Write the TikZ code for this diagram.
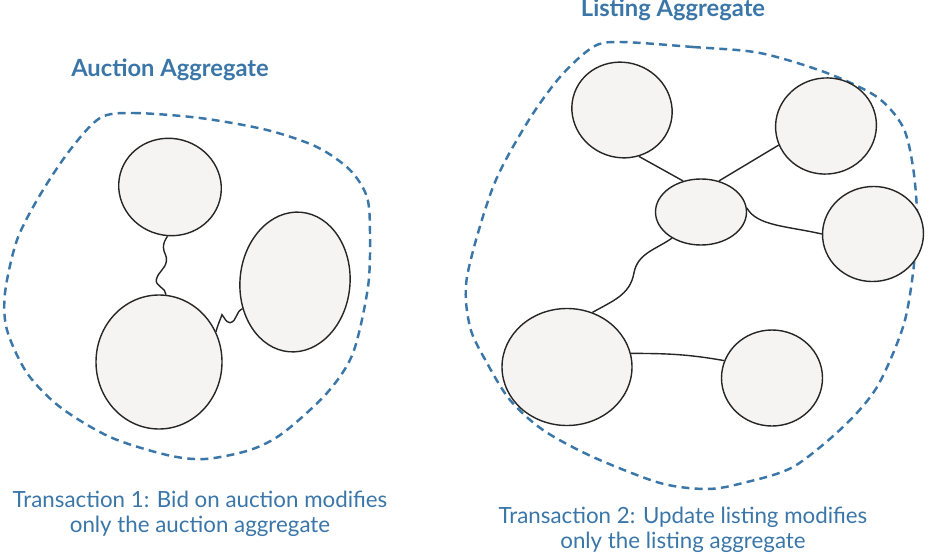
\documentclass[tikz,border=0pt]{standalone}
\usepackage{fontspec}
\setmainfont{Lato}
\usetikzlibrary{shapes.geometric}
\definecolor{aggblue}{RGB}{58,118,168}
\definecolor{blobgray}{RGB}{245,244,242}
\newcommand{\px}{0.02cm}

\begin{document}
\begin{tikzpicture}[x=\px,y=-\px,
  blob/.style={ellipse,draw=black!85,line width=0.8pt,fill=blobgray,inner sep=0pt},
  link/.style={draw=black!85,line width=0.8pt},
  boundary/.style={draw=aggblue,line width=1.4pt,dash pattern=on 4.5pt off 3pt},
  aggtitle/.style={font=\fontsize{13.5}{16}\selectfont\bfseries,text=aggblue,anchor=base},
  caption/.style={font=\fontsize{12.7}{14.2}\selectfont,text=aggblue,align=center,anchor=north,inner sep=0pt}]
  \useasboundingbox (0,0) rectangle (930,554);

  % aggregate boundaries
  \draw[boundary] plot[smooth cycle] coordinates {(100,118) (133,113) (200,118) (267,130) (317,147)
    (350,170) (367,197) (370,233) (368,287) (353,353) (327,393) (283,433) (250,450) (205,459)
    (167,455) (110,437) (60,407) (27,373) (7,330) (5,293) (17,240) (40,195) (70,150)};
  \draw[boundary] plot[smooth cycle] coordinates {(620,42) (693,47) (760,53) (827,73) (877,97)
    (903,127) (913,167) (917,217) (913,273) (903,327) (877,387) (843,427) (793,467) (743,483)
    (707,489) (660,483) (593,457) (543,430) (510,400) (487,363) (470,327) (467,277) (493,187)
    (527,123) (560,77) (593,47)};

  % entities
  \foreach \n/\x/\y/\w/\h/\r in {a1/170/187/103/97/-15,a2/159/362/126/134/0,a3/295/282/110/140/-5,
    b1/622/110/101/95/-20,b2/826/126/101/96/10,b3/701/212/91/66/0,b4/873/234/101/95/5,
    b5/567/367/130/117/0,b6/772/378/101/96/0}
    \node[blob,minimum width=\w*\px,minimum height=\h*\px,rotate=\r] (\n) at (\x,\y) {};

  % references between entities
  \draw[link] (a1.-78) to[out=-120,in=90] ++(-4,11) to[out=-90,in=80] ++(3,14)
    to[out=-100,in=75] ++(-10,18) to[out=-105,in=90] (a2.84);
  \draw[link] (a2.28) to[out=75,in=-110] ++(6,-17) to[out=-50,in=170] ++(8,8)
    to[out=10,in=200] (a3.-148);
  \draw[link] (b1.-50) -- (b3.120);
  \draw[link] (b3.60) -- (b2.192);
  \draw[link] (b3.5) .. controls +(10,18) and +(-35,-8) .. (b4.175);
  \draw[link] (b3.-138) to[out=-145,in=80] ++(-38,35) to[out=-100,in=30] (b5.65);
  \draw[link] (b5.12) to[out=0,in=170] (b6.160);

  % labels
  \node[aggtitle] (auctitle) at (170,77) {Auction Aggregate};
  \node[aggtitle] (listitle) at (673,17) {Listing Aggregate};
  \node[caption] (auccap) at (200,491) {Transaction 1: Bid on auction modifies\\only the auction aggregate};
  \node[caption] (liscap) at (683,507) {Transaction 2: Update listing modifies\\only the listing aggregate};
\end{tikzpicture}
\end{document}
